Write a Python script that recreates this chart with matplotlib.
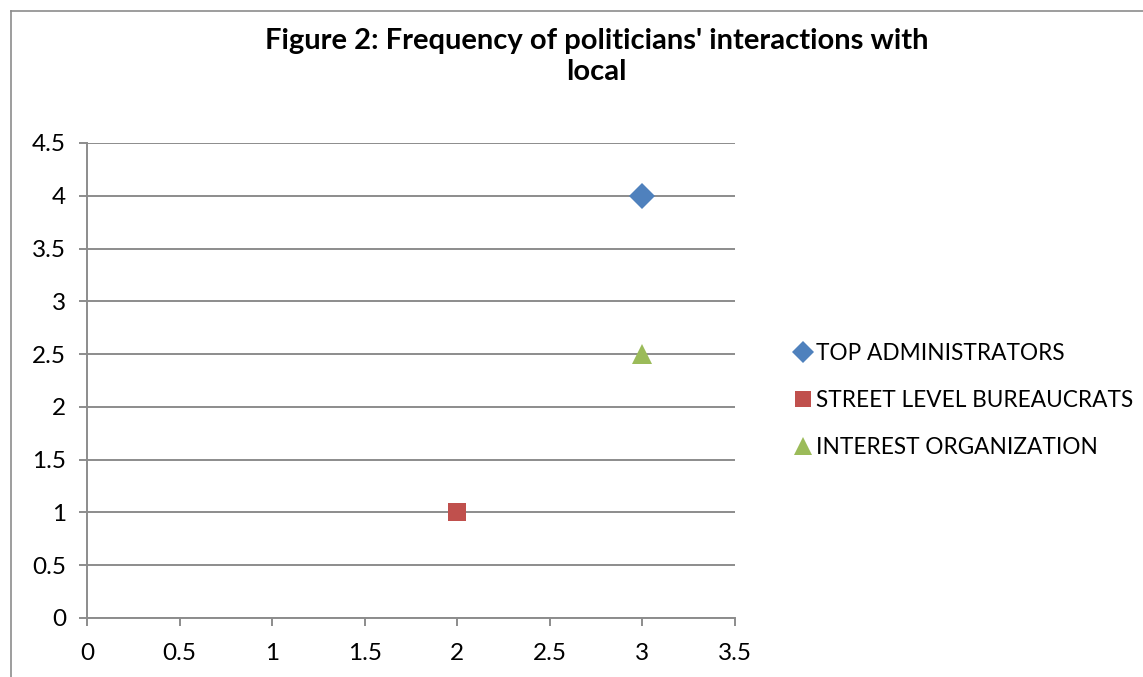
import matplotlib.pyplot as plt
from matplotlib.lines import Line2D

plt.rcParams['font.family'] = ['Lato', 'DejaVu Sans']

series = ['TOP ADMINISTRATORS', 'STREET LEVEL BUREAUCRATS', 'INTEREST ORGANIZATION']
x_vals = [3, 2, 3]
y_vals = [4, 1, 2.5]
markers = ['D', 's', '^']
sizes = [13, 13, 15]
colors = ['#4F81BD', '#C0504D', '#9BBB59']

fig = plt.figure(figsize=(11.43, 6.77), dpi=100)
ax = fig.add_axes([0.0761, 0.0872, 0.567, 0.7016])

for name, x, y, m, s, c in zip(series, x_vals, y_vals, markers, sizes, colors):
    ax.plot([x], [y], linestyle='none', marker=m, markersize=s, color=c,
            markeredgewidth=0, label=name, zorder=3)

ax.set_xlim(0, 3.5)
ax.set_ylim(0, 4.5)
ax.set_xticks([0, 0.5, 1, 1.5, 2, 2.5, 3, 3.5])
ax.set_xticklabels(['0', '0.5', '1', '1.5', '2', '2.5', '3', '3.5'])
ax.set_yticks([0, 0.5, 1, 1.5, 2, 2.5, 3, 3.5, 4, 4.5])
ax.set_yticklabels(['0', '0.5', '1', '1.5', '2', '2.5', '3', '3.5', '4', '4.5'])
ax.grid(axis='y', color='#8c8c8c', linewidth=1.4)
ax.set_axisbelow(True)
for side in ['top', 'right']:
    ax.spines[side].set_visible(False)
for side in ['left', 'bottom']:
    ax.spines[side].set_color('#8c8c8c')
    ax.spines[side].set_linewidth(1.4)
ax.tick_params(colors='#8c8c8c', labelcolor='black', labelsize=17.5,
               length=6, width=1.4)
ax.tick_params(axis='x', pad=12)
ax.tick_params(axis='y', pad=9)

fig.text(0.522, 0.917, "Figure 2: Frequency of politicians' interactions with\nlocal",
         ha='center', va='center', fontsize=21, fontweight='bold', linespacing=1.25)

ax.legend(loc='center left', bbox_to_anchor=(0.674, 0.408),
          bbox_transform=fig.transFigure, frameon=False, fontsize=16.3,
          handletextpad=0.0, labelspacing=1.15, markerscale=0.9,
          handlelength=1.1)

# outer chart border
border_color = '#8c8c8c'
fig.add_artist(Line2D([0.0096, 0.0096], [0.0, 0.9838], color=border_color, linewidth=1.2))
fig.add_artist(Line2D([0.0096, 1.0], [0.9838, 0.9838], color=border_color, linewidth=1.2))

fig.savefig('out.png', dpi=100)
